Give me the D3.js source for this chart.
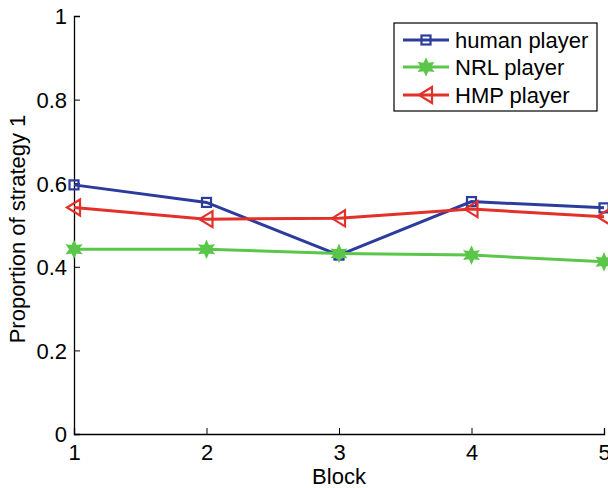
<!DOCTYPE html>
<html><head><meta charset="utf-8">
<script src="https://cdn.jsdelivr.net/npm/d3@7"></script>
<style>body{margin:0;background:#fff;} svg{display:block;}</style>
</head><body>
<svg id="c" width="608" height="488"></svg>
<script>
const blocks = [1, 2, 3, 4, 5];
const humanPlayer = [0.596, 0.554, 0.428, 0.556, 0.541];
const nrlPlayer = [0.442, 0.442, 0.432, 0.428, 0.412];
const hmpPlayer = [0.542, 0.514, 0.516, 0.538, 0.520];
const seriesNames = ["human player", "NRL player", "HMP player"];
const xTicks = [1, 2, 3, 4, 5];
const yTicks = [0, 0.2, 0.4, 0.6, 0.8, 1];
const yTickLabels = ["0", "0.2", "0.4", "0.6", "0.8", "1"];

const colors = ["#2b3c9c", "#5ac64a", "#e2302a"];
const markers = ["square", "star", "tri"];
const series = [humanPlayer, nrlPlayer, hmpPlayer];

const svg = d3.select("#c");
const font = "'Liberation Sans', Arial, sans-serif";
const x = d3.scaleLinear().domain([1, 5]).range([74, 604]);
const y = d3.scaleLinear().domain([0, 1]).range([434, 16]);

// axes
const xAxis = d3.axisBottom(x).tickValues(xTicks).tickFormat(d3.format("d")).tickSize(-6).tickPadding(10);
const yAxis = d3.axisLeft(y).tickValues(yTicks).tickFormat((d, i) => yTickLabels[i]).tickSize(-6).tickPadding(7);
const gx = svg.append("g").attr("transform", "translate(0,434)").call(xAxis);
const gy = svg.append("g").attr("transform", "translate(74,0)").call(yAxis);
[gx, gy].forEach(g => {
  g.select(".domain").attr("stroke", "#000").attr("stroke-width", 1.3);
  g.selectAll(".tick line").attr("stroke", "#000").attr("stroke-width", 1);
  g.selectAll(".tick text").attr("fill", "#000").style("font-family", font).style("font-size", "22px");
});
gx.selectAll(".tick text").attr("dy", "0.72em");
gy.selectAll(".tick text").attr("dy", "0.36em");

// axis labels
svg.append("text").attr("x", 339).attr("y", 484).attr("text-anchor", "middle")
  .style("font-family", font).style("font-size", "22px").text("Block");
svg.append("text").attr("transform", "translate(25,229) rotate(-90)").attr("text-anchor", "middle")
  .style("font-family", font).style("font-size", "22px").text("Proportion of strategy 1");

function drawMarker(g, type, cx, cy, color) {
  if (type === "square") {
    g.append("rect").attr("x", cx - 4.5).attr("y", cy - 4.5).attr("width", 9).attr("height", 9)
      .attr("fill", "none").attr("stroke", color).attr("stroke-width", 2.2);
  } else if (type === "star") {
    const pts = [];
    for (let k = 0; k < 12; k++) {
      const r = k % 2 === 0 ? 8 : 4;
      const a = -Math.PI / 2 + k * Math.PI / 6;
      pts.push([cx + r * Math.cos(a), cy + r * Math.sin(a)]);
    }
    g.append("polygon").attr("points", pts.map(p => p.join(",")).join(" "))
      .attr("fill", color).attr("stroke", color).attr("stroke-width", 1.5);
  } else {
    g.append("polygon").attr("points", [[cx - 7, cy], [cx + 6, cy - 8], [cx + 6, cy + 8]].map(p => p.join(",")).join(" "))
      .attr("fill", "none").attr("stroke", color).attr("stroke-width", 2.2);
  }
}

const line = d3.line().x((d, i) => x(blocks[i])).y(d => y(d));
series.forEach((s, si) => {
  const g = svg.append("g");
  g.append("path").datum(s).attr("d", line).attr("fill", "none")
    .attr("stroke", colors[si]).attr("stroke-width", 3);
  s.forEach((v, i) => drawMarker(g, markers[si], x(blocks[i]), y(v), colors[si]));
});

// legend
const lg = svg.append("g");
lg.append("rect").attr("x", 394).attr("y", 23).attr("width", 203).attr("height", 88)
  .attr("fill", "#fff").attr("stroke", "#000").attr("stroke-width", 1.2);
const ly = [40, 67, 95];
seriesNames.forEach((name, i) => {
  lg.append("line").attr("x1", 403).attr("x2", 449).attr("y1", ly[i]).attr("y2", ly[i])
    .attr("stroke", colors[i]).attr("stroke-width", 3);
  drawMarker(lg, markers[i], 426, ly[i], colors[i]);
  lg.append("text").attr("x", 455).attr("y", ly[i]).attr("dy", "0.36em")
    .style("font-family", font).style("font-size", "22px").text(name);
});
</script>
</body></html>
